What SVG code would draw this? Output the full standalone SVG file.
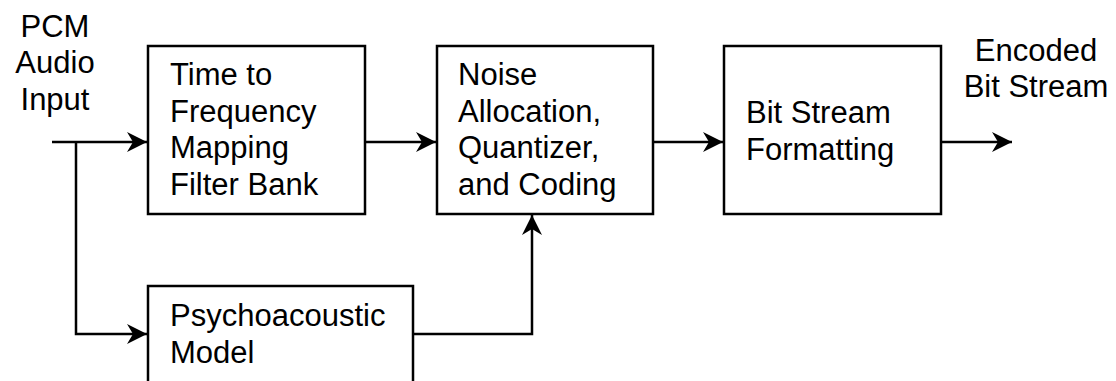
<svg xmlns="http://www.w3.org/2000/svg" width="1116" height="381" viewBox="0 0 1116 381">
  <style>
    .box { fill: #fff; stroke: #000; stroke-width: 2.5; }
    .wire { fill: none; stroke: #000; stroke-width: 2.5; }
    .lbl { font-family: "Liberation Sans", Arial, sans-serif; font-size: 31px; fill: #000; }
    .mid { text-anchor: middle; }
  </style>
  <defs>
    <marker id="arrow" markerUnits="userSpaceOnUse" markerWidth="22" markerHeight="22" viewBox="-21 -11 22 22" refX="0" refY="0" orient="auto">
      <path d="M0,0 L-20,-10 L-14,0 L-20,10 Z" fill="#000"/>
    </marker>
  </defs>

  <rect width="1116" height="381" fill="#fff"/>

  <!-- input and output labels -->
  <text class="lbl mid" x="55" y="37">PCM</text>
  <text class="lbl mid" x="55" y="73">Audio</text>
  <text class="lbl mid" x="55" y="110">Input</text>

  <text class="lbl mid" x="1036" y="61">Encoded</text>
  <text class="lbl mid" x="1036" y="97">Bit Stream</text>

  <!-- signal paths -->
  <g id="connectors">
    <path class="wire" d="M52,142 H147" marker-end="url(#arrow)"/>
    <path class="wire" d="M76,142 V334 H147" marker-end="url(#arrow)"/>
    <path class="wire" d="M365,142 H436" marker-end="url(#arrow)"/>
    <path class="wire" d="M653,142 H723" marker-end="url(#arrow)"/>
    <path class="wire" d="M941,142 H1012" marker-end="url(#arrow)"/>
    <path class="wire" d="M413,334 H532 V215" marker-end="url(#arrow)"/>
  </g>

  <g id="filter-bank">
    <rect class="box" x="148" y="46" width="217" height="168"/>
    <text class="lbl" x="170" y="85">Time to</text>
    <text class="lbl" x="170" y="122">Frequency</text>
    <text class="lbl" x="170" y="158">Mapping</text>
    <text class="lbl" x="170" y="195">Filter Bank</text>
  </g>

  <g id="quantizer">
    <rect class="box" x="437" y="46" width="216" height="168"/>
    <text class="lbl" x="458" y="85">Noise</text>
    <text class="lbl" x="458" y="122">Allocation,</text>
    <text class="lbl" x="458" y="158">Quantizer,</text>
    <text class="lbl" x="458" y="195">and Coding</text>
  </g>

  <g id="formatting">
    <rect class="box" x="724" y="46" width="217" height="168"/>
    <text class="lbl" x="746" y="123">Bit Stream</text>
    <text class="lbl" x="746" y="160">Formatting</text>
  </g>

  <g id="psychoacoustic">
    <rect class="box" x="148" y="286" width="265" height="140"/>
    <text class="lbl" x="170" y="326">Psychoacoustic</text>
    <text class="lbl" x="170" y="363">Model</text>
  </g>
</svg>
